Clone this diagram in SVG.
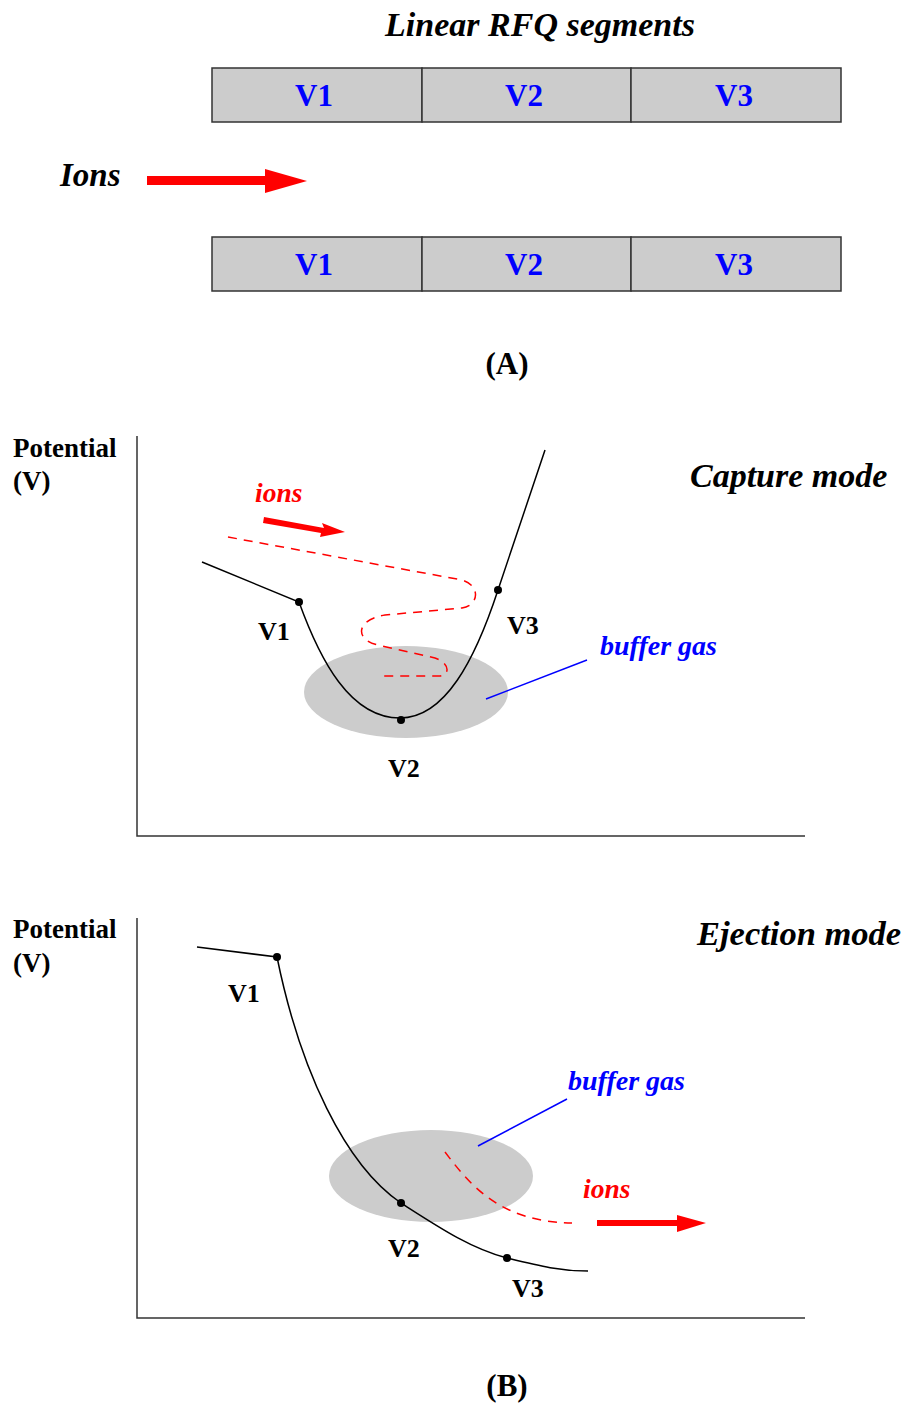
<svg xmlns="http://www.w3.org/2000/svg" width="906" height="1408" viewBox="0 0 906 1408">
<style>
.seg{fill:#cccccc;stroke:#333;stroke-width:1.5}
.vlab{font-family:"Liberation Serif",serif;font-weight:bold;font-size:31px;fill:#0000ff;text-anchor:middle}
.bi{font-family:"Liberation Serif",serif;font-weight:bold;font-style:italic}
.b{font-family:"Liberation Serif",serif;font-weight:bold}
.axis{stroke:#333;stroke-width:1.5;fill:none}
.curve{stroke:#000;stroke-width:1.5;fill:none}
.gas{fill:#cccccc}
.dash{stroke:#ff0000;stroke-width:1.5;fill:none;stroke-dasharray:9 7}
.lead{stroke:#0000ff;stroke-width:1.5}
.dot{fill:#000}
.red{fill:#ff0000}
</style>
<rect width="906" height="1408" fill="#fff"/>
<g id="partA">
<text class="bi" x="540" y="36" font-size="34" text-anchor="middle">Linear RFQ segments</text>
<g id="row1">
<rect class="seg" x="212" y="68" width="210" height="54"/>
<rect class="seg" x="422" y="68" width="209" height="54"/>
<rect class="seg" x="631" y="68" width="210" height="54"/>
<text class="vlab" x="314" y="106">V1</text>
<text class="vlab" x="524" y="106">V2</text>
<text class="vlab" x="734" y="106">V3</text>
</g>
<g id="row2">
<rect class="seg" x="212" y="237" width="210" height="54"/>
<rect class="seg" x="422" y="237" width="209" height="54"/>
<rect class="seg" x="631" y="237" width="210" height="54"/>
<text class="vlab" x="314" y="275">V1</text>
<text class="vlab" x="524" y="275">V2</text>
<text class="vlab" x="734" y="275">V3</text>
</g>
<g id="ionsA">
<text class="bi" x="60" y="186" font-size="33">Ions</text>
<rect class="red" x="147" y="176" width="120" height="9"/>
<polygon class="red" points="265,169 307,181 265,193"/>
</g>
<text class="b" x="507" y="374" font-size="31" text-anchor="middle">(A)</text>
</g>
<g id="capture">
<path class="axis" d="M137,436 V836 H805"/>
<text class="b" x="13" y="457" font-size="27">Potential</text>
<text class="b" x="13" y="490" font-size="27">(V)</text>
<text class="bi" x="690" y="487" font-size="34">Capture mode</text>
<ellipse class="gas" cx="406" cy="692" rx="102" ry="46"/>
<path class="curve" d="M202,562 L299,602 C320,660 350,718 400,718 C445,718 475,660 498,590 C515,540 530,495 545,450"/>
<circle class="dot" cx="299" cy="602" r="4"/>
<circle class="dot" cx="401" cy="720" r="4"/>
<circle class="dot" cx="498" cy="590" r="4"/>
<text class="b" x="258" y="640" font-size="26">V1</text>
<text class="b" x="507" y="634" font-size="26">V3</text>
<text class="b" x="388" y="777" font-size="26">V2</text>
<path class="dash" d="M228,537 L462,580 C480,585 480,605 462,608 L385,615 C355,620 355,640 378,645 L435,658 C450,663 450,675 440,676 L380,676"/>
<line class="lead" x1="486" y1="699" x2="587" y2="660"/>
<text class="bi" x="600" y="655" font-size="28" fill="#0000ff">buffer gas</text>
<text class="bi" x="255" y="502" font-size="27.5" fill="#ff0000">ions</text>
<polygon class="red" points="264,517 324,528 322,523 345,532 320,537 321,533 263,523"/>
</g>
<g id="ejection">
<path class="axis" d="M137,918 V1318 H805"/>
<text class="b" x="13" y="938" font-size="27">Potential</text>
<text class="b" x="13" y="972" font-size="27">(V)</text>
<text class="bi" x="697" y="945" font-size="34.5">Ejection mode</text>
<ellipse class="gas" cx="431" cy="1176" rx="102" ry="46"/>
<path class="curve" d="M197,947 L277,957 C300,1070 345,1165 401,1203 C440,1228 470,1248 507,1258 C540,1266 560,1271 588,1271"/>
<circle class="dot" cx="277" cy="957" r="4"/>
<circle class="dot" cx="401" cy="1203" r="4"/>
<circle class="dot" cx="507" cy="1258" r="4"/>
<text class="b" x="228" y="1002" font-size="26">V1</text>
<text class="b" x="388" y="1257" font-size="26">V2</text>
<text class="b" x="512" y="1297" font-size="26">V3</text>
<path class="dash" d="M445,1152 C470,1185 500,1222 572,1223"/>
<line class="lead" x1="478" y1="1146" x2="567" y2="1099"/>
<text class="bi" x="568" y="1090" font-size="28" fill="#0000ff">buffer gas</text>
<text class="bi" x="583" y="1198" font-size="27.5" fill="#ff0000">ions</text>
<rect class="red" x="597" y="1220" width="82" height="6"/>
<polygon class="red" points="677,1215 706,1223 677,1232"/>
</g>
<text class="b" x="507" y="1396" font-size="31" text-anchor="middle">(B)</text>
</svg>
